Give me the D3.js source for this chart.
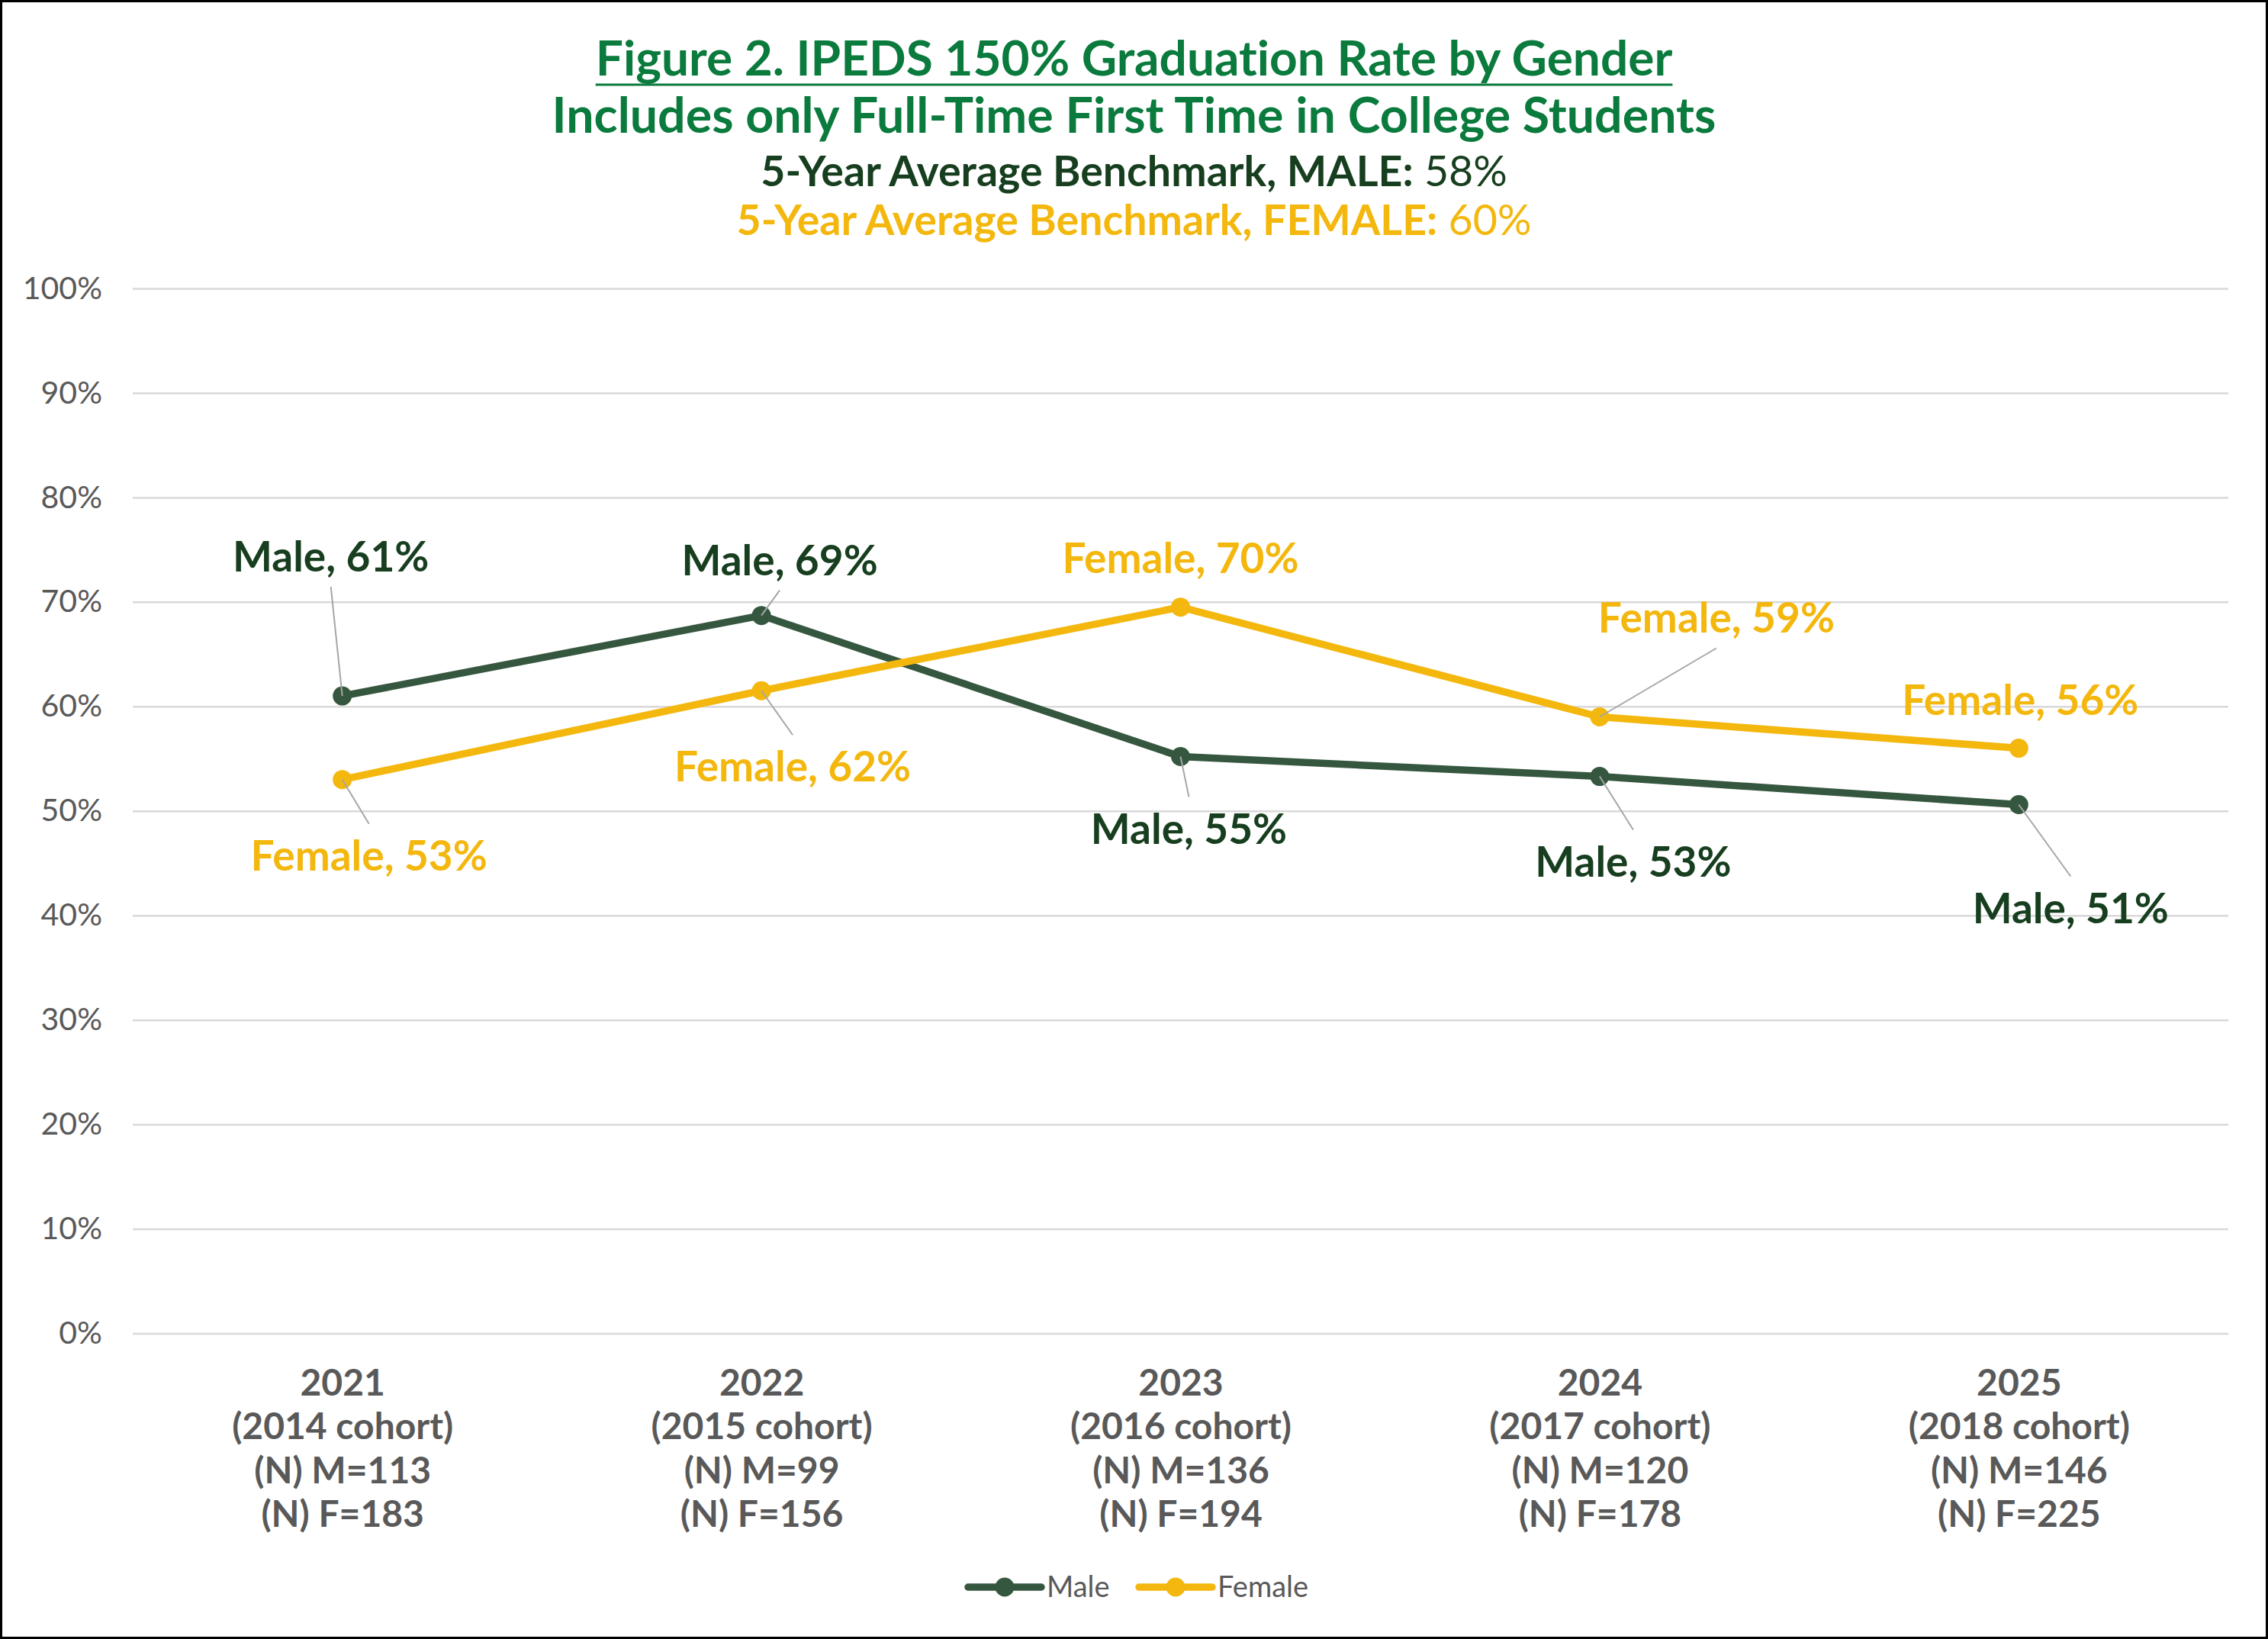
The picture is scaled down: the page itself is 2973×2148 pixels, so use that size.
<!DOCTYPE html>
<html>
<head>
<meta charset="utf-8">
<script src="https://cdn.jsdelivr.net/npm/d3@7"></script>
<style>
  body { margin: 0; background: #fff; }
  svg { display: block; }
  text { font-family: Lato, "Open Sans", sans-serif; font-variant-ligatures: none; }
</style>
</head>
<body>
<svg id="chart"></svg>
<script>
// ---- data ----
var years = ["2021", "2022", "2023", "2024", "2025"];
var cohorts = ["(2014 cohort)", "(2015 cohort)", "(2016 cohort)", "(2017 cohort)", "(2018 cohort)"];
var nMale = [113, 99, 136, 120, 146];
var nFemale = [183, 156, 194, 178, 225];
var maleRates = [0.610, 0.687, 0.552, 0.533, 0.506];
var femaleRates = [0.530, 0.615, 0.695, 0.590, 0.560];
var benchMale = "58%";
var benchFemale = "60%";
var yTicks = [0, 0.1, 0.2, 0.3, 0.4, 0.5, 0.6, 0.7, 0.8, 0.9, 1.0];

// ---- layout ----
var W = 2973, H = 2148;
var plotLeft = 174, plotRight = 2921, plotTop = 378, plotBottom = 1747.5;
var maleColor = "#36573F", femaleColor = "#F3B70E";
var maleText = "#173F1F", titleGreen = "#0A7A3D", gray = "#595959";

// label placement relative to its point: [dx, dy(baseline), leader?]
var maleLabelPos = [[-15, -163, true], [24, -53, true], [11, 114, true], [44, 131, true], [68, 155, true]];
var femaleLabelPos = [[35, 119, true], [41, 119, true], [0, -45, false], [153, -110, true], [2, -44, false]];

var svg = d3.select("#chart").attr("width", W).attr("height", H);
svg.append("rect").attr("width", W).attr("height", H).attr("fill", "#fff");

var x = d3.scalePoint().domain(years).range([plotLeft, plotRight]).padding(0.5);
var y = d3.scaleLinear().domain([0, 1]).range([plotBottom, plotTop]);

// gridlines and y labels
var gy = svg.append("g")
  .attr("transform", "translate(" + plotLeft + ",0)")
  .call(d3.axisLeft(y).tickValues(yTicks).tickFormat(d3.format(".0%"))
    .tickSize(-(plotRight - plotLeft)).tickPadding(40));
gy.attr("font-family", "Lato").attr("font-size", 41);
gy.select(".domain").remove();
gy.selectAll(".tick line").attr("stroke", "#D9D9D9").attr("stroke-width", 2.5);
gy.selectAll(".tick text").attr("fill", gray);

// category labels, four lines each
var gx = svg.append("g")
  .attr("transform", "translate(0," + plotBottom + ")")
  .call(d3.axisBottom(x).tickSize(0));
gx.attr("font-family", "Lato").attr("font-size", 48).attr("font-weight", "bold");
gx.select(".domain").remove();
gx.selectAll(".tick text")
  .attr("fill", gray).attr("dy", 0).text(null)
  .selectAll("tspan")
  .data(function(d) {
    var i = years.indexOf(d);
    return [years[i], cohorts[i], "(N) M=" + nMale[i], "(N) F=" + nFemale[i]];
  })
  .join("tspan")
  .attr("x", 0)
  .attr("y", function(d, j) { return 81 + j * 57.5; })
  .text(function(d) { return d; });

// series
var line = d3.line()
  .x(function(d, i) { return x(years[i]); })
  .y(function(d) { return y(d); });

function drawSeries(values, color) {
  svg.append("path")
    .datum(values)
    .attr("d", line)
    .attr("fill", "none")
    .attr("stroke", color)
    .attr("stroke-width", 9.5)
    .attr("stroke-linejoin", "round");
  svg.append("g").selectAll("circle")
    .data(values)
    .join("circle")
    .attr("cx", function(d, i) { return x(years[i]); })
    .attr("cy", function(d) { return y(d); })
    .attr("r", 12.5)
    .attr("fill", color);
}
drawSeries(maleRates, maleColor);
drawSeries(femaleRates, femaleColor);

// data labels with leader lines
function drawLabels(values, name, pos, color) {
  values.forEach(function(v, i) {
    var px = x(years[i]), py = y(v);
    var lx = px + pos[i][0], ly = py + pos[i][1];
    if (pos[i][2]) {
      var ay = pos[i][1] < 0 ? ly + 20 : ly - 40 - 21;
      svg.append("line")
        .attr("x1", lx).attr("y1", ay)
        .attr("x2", px).attr("y2", py)
        .attr("stroke", "#A6A6A6").attr("stroke-width", 2);
    }
    svg.append("text")
      .attr("x", lx).attr("y", ly)
      .attr("text-anchor", "middle")
      .attr("font-size", 55).attr("font-weight", "bold")
      .attr("fill", color)
      .text(name + ", " + Math.round(v * 100) + "%");
  });
}
drawLabels(maleRates, "Male", maleLabelPos, maleText);
drawLabels(femaleRates, "Female", femaleLabelPos, femaleColor);

// titles
var cx = W / 2;
var t1 = svg.append("text").attr("x", cx).attr("y", 99).attr("text-anchor", "middle")
  .attr("font-size", 64).attr("font-weight", "bold").attr("fill", titleGreen)
  .text("Figure 2. IPEDS 150% Graduation Rate by Gender");
var b1 = t1.node().getBBox();
svg.append("line").attr("x1", b1.x).attr("x2", b1.x + b1.width)
  .attr("y1", 111).attr("y2", 111).attr("stroke", titleGreen).attr("stroke-width", 3);
svg.append("text").attr("x", cx).attr("y", 174).attr("text-anchor", "middle")
  .attr("font-size", 64.5).attr("font-weight", "bold").attr("fill", titleGreen)
  .text("Includes only Full-Time First Time in College Students");

var t3 = svg.append("text").attr("x", cx).attr("y", 244).attr("text-anchor", "middle")
  .attr("font-size", 55.5).attr("fill", maleText);
t3.append("tspan").attr("font-weight", "bold").text("5-Year Average Benchmark, MALE:");
t3.append("tspan").text(" " + benchMale);
var t4 = svg.append("text").attr("x", cx).attr("y", 308).attr("text-anchor", "middle")
  .attr("font-size", 55.5).attr("fill", femaleColor);
t4.append("tspan").attr("font-weight", "bold").text("5-Year Average Benchmark, FEMALE:");
t4.append("tspan").text(" " + benchFemale);

// legend
var legend = svg.append("g").attr("transform", "translate(0,2080)");
var items = [
  { name: "Male", color: maleColor, x0: 1269 },
  { name: "Female", color: femaleColor, x0: 1493 }
];
items.forEach(function(it) {
  legend.append("line").attr("x1", it.x0).attr("x2", it.x0 + 96)
    .attr("stroke", it.color).attr("stroke-width", 9.5).attr("stroke-linecap", "round");
  legend.append("circle").attr("cx", it.x0 + 48).attr("r", 12.5).attr("fill", it.color);
  legend.append("text").attr("x", it.x0 + 103).attr("y", 13)
    .attr("font-size", 38).attr("fill", gray).text(it.name);
});

// outer frame
svg.append("rect").attr("x", 1.5).attr("y", 1.5).attr("width", W - 3).attr("height", H - 3)
  .attr("fill", "none").attr("stroke", "#000").attr("stroke-width", 3);
</script>
</body>
</html>
